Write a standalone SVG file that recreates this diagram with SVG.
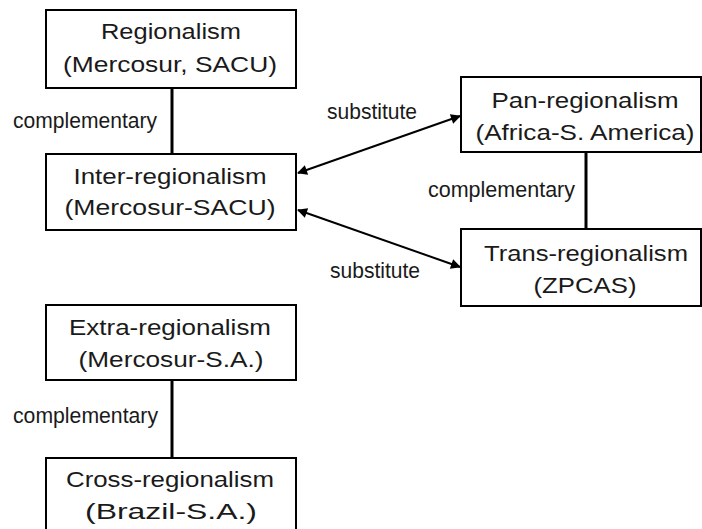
<svg xmlns="http://www.w3.org/2000/svg" width="702" height="529" viewBox="0 0 702 529">
<style>
.box{fill:#fff;stroke:#000;stroke-width:2}
.t{font-family:"Liberation Sans",Arial,sans-serif;font-size:22.5px;fill:#1a1a1a;text-anchor:middle}
.lbl{font-family:"Liberation Sans",Arial,sans-serif;font-size:22px;fill:#1a1a1a}
.ln{stroke:#000;stroke-width:3;fill:none}
.ar{stroke:#000;stroke-width:2;fill:none;marker-start:url(#ah);marker-end:url(#ah)}
</style>
<defs>
<marker id="ah" viewBox="0 0 10 10" refX="9" refY="5" markerWidth="12" markerHeight="10" markerUnits="userSpaceOnUse" orient="auto-start-reverse">
<path d="M0,0 L10,5 L0,10 z" fill="#000"/>
</marker>
</defs>
<rect width="702" height="529" fill="#fff"/>
<g id="connectors">
<line class="ln" x1="172" y1="88" x2="172" y2="154"/>
<line class="ln" x1="586" y1="152" x2="586" y2="229"/>
<line class="ln" x1="172" y1="380" x2="172" y2="458"/>
<line class="ar" x1="298" y1="173" x2="460" y2="116"/>
<line class="ar" x1="298" y1="210" x2="460" y2="267"/>
<text class="lbl" x="13" y="128" textLength="144" lengthAdjust="spacingAndGlyphs">complementary</text>
<text class="lbl" x="428" y="197" textLength="147" lengthAdjust="spacingAndGlyphs">complementary</text>
<text class="lbl" x="13" y="423" textLength="145" lengthAdjust="spacingAndGlyphs">complementary</text>
<text class="lbl" x="327" y="119" textLength="90" lengthAdjust="spacingAndGlyphs">substitute</text>
<text class="lbl" x="330" y="278" textLength="90" lengthAdjust="spacingAndGlyphs">substitute</text>
</g>
<g id="regionalism">
<rect class="box" x="46" y="10" width="250" height="78"/>
<text class="t" x="171" y="39" textLength="140" lengthAdjust="spacingAndGlyphs">Regionalism</text>
<text class="t" x="170" y="72" textLength="214" lengthAdjust="spacingAndGlyphs">(Mercosur, SACU)</text>
</g>
<g id="inter-regionalism">
<rect class="box" x="46" y="154" width="250" height="76"/>
<text class="t" x="170" y="184" textLength="193" lengthAdjust="spacingAndGlyphs">Inter-regionalism</text>
<text class="t" x="170" y="215" textLength="211" lengthAdjust="spacingAndGlyphs">(Mercosur-SACU)</text>
</g>
<g id="pan-regionalism">
<rect class="box" x="461" y="77" width="240" height="75"/>
<text class="t" x="585" y="108" textLength="187" lengthAdjust="spacingAndGlyphs">Pan-regionalism</text>
<text class="t" x="585" y="140" textLength="219" lengthAdjust="spacingAndGlyphs">(Africa-S. America)</text>
</g>
<g id="trans-regionalism">
<rect class="box" x="461" y="229" width="240" height="77"/>
<text class="t" x="586" y="261" textLength="204" lengthAdjust="spacingAndGlyphs">Trans-regionalism</text>
<text class="t" x="585" y="293" textLength="103" lengthAdjust="spacingAndGlyphs">(ZPCAS)</text>
</g>
<g id="extra-regionalism">
<rect class="box" x="46" y="305" width="250" height="75"/>
<text class="t" x="170" y="335" textLength="202" lengthAdjust="spacingAndGlyphs">Extra-regionalism</text>
<text class="t" x="171" y="367" textLength="185" lengthAdjust="spacingAndGlyphs">(Mercosur-S.A.)</text>
</g>
<g id="cross-regionalism">
<rect class="box" x="46" y="458" width="250" height="80"/>
<text class="t" x="170" y="487" textLength="208" lengthAdjust="spacingAndGlyphs">Cross-regionalism</text>
<text class="t" x="171" y="519" textLength="172" lengthAdjust="spacingAndGlyphs">(Brazil-S.A.)</text>
</g>
</svg>
